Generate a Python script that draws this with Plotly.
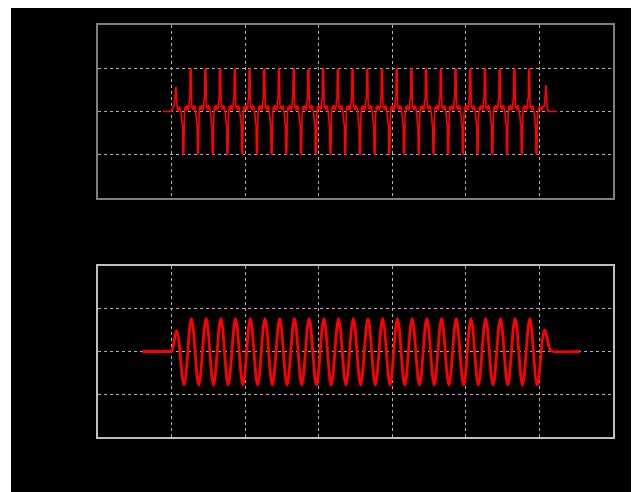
import plotly.graph_objects as go
from plotly.subplots import make_subplots

# ---- data (x in axis units 0..7, y in -2..2) ----
# times of the alternating extrema (trough, peak, trough, ...)
extrema_x = [1.17, 1.27, 1.37, 1.47, 1.57, 1.67, 1.77, 1.87, 1.97, 2.07,
             2.17, 2.27, 2.37, 2.47, 2.57, 2.67, 2.77, 2.87, 2.97, 3.07,
             3.17, 3.27, 3.37, 3.47, 3.57, 3.67, 3.77, 3.87, 3.97, 4.07,
             4.17, 4.27, 4.37, 4.47, 4.57, 4.67, 4.77, 4.87, 4.97, 5.07,
             5.17, 5.27, 5.37, 5.47, 5.57, 5.67, 5.77, 5.87, 5.97]
# lower panel: smooth oscillation values at those extrema
wave_y = [-0.78, 0.77, -0.78, 0.77, -0.78, 0.77, -0.78, 0.77, -0.78, 0.77,
          -0.78, 0.77, -0.78, 0.77, -0.78, 0.77, -0.78, 0.77, -0.78, 0.77,
          -0.78, 0.77, -0.78, 0.77, -0.78, 0.77, -0.78, 0.77, -0.78, 0.77,
          -0.78, 0.77, -0.78, 0.77, -0.78, 0.77, -0.78, 0.77, -0.78, 0.77,
          -0.78, 0.77, -0.78, 0.77, -0.78, 0.77, -0.78, 0.77, -0.78]
# upper panel: spike values at those extrema
spike_y = [-1.0, 1.0, -1.0, 1.0, -1.0, 1.0, -1.0, 1.0, -1.0, 1.0,
           -1.0, 1.0, -1.0, 1.0, -1.0, 1.0, -1.0, 1.0, -1.0, 1.0,
           -1.0, 1.0, -1.0, 1.0, -1.0, 1.0, -1.0, 1.0, -1.0, 1.0,
           -1.0, 1.0, -1.0, 1.0, -1.0, 1.0, -1.0, 1.0, -1.0, 1.0,
           -1.0, 1.0, -1.0, 1.0, -1.0, 1.0, -1.0, 1.0, -1.0]

# lower panel lead-in / tail
wave_head_x = [0.60, 0.98, 1.00, 1.07]
wave_head_y = [0.0, 0.0, 0.0, 0.48]
wave_tail_x = [6.07, 6.15, 6.19, 6.55]
wave_tail_y = [0.50, 0.03, 0.0, 0.0]

# upper panel lead-in / tail
spike_head_x = [0.88, 1.00, 1.02, 1.035, 1.045, 1.06, 1.075, 1.09, 1.105, 1.12]
spike_head_y = [0.0, 0.0, 0.1, 0.12, 0.3, 0.57, 0.1, 0.0, 0.12, 0.05]
spike_tail_x = [5.99, 6.01, 6.03, 6.05, 6.065, 6.075, 6.09, 6.105, 6.12, 6.24]
spike_tail_y = [0.05, 0.12, 0.02, 0.12, 0.1, 0.3, 0.61, 0.1, 0.0, 0.0]

# shape of each spike (offsets relative to spike time, fraction of spike value)
spike_dx = [-0.035, -0.027, -0.021, -0.017, -0.004, 0.004]
spike_frac = [0.1, 0.3, 0.28, 0.95, 1.0, 0.08]
# small ripple between two spikes (offsets after a spike)
ripple_dx = [0.014, 0.024, 0.034, 0.046, 0.056]
ripple_y = [0.12, 0.03, 0.13, 0.12, 0.02]

# ---- assemble traces ----
bx = wave_head_x + extrema_x + wave_tail_x
by = wave_head_y + wave_y + wave_tail_y

tx = list(spike_head_x)
ty = list(spike_head_y)
for i, (t, v) in enumerate(zip(extrema_x, spike_y)):
    for dx, f in zip(spike_dx, spike_frac):
        tx.append(t + dx)
        ty.append(v * f)
    if i < len(extrema_x) - 1:
        for dx, r in zip(ripple_dx, ripple_y):
            tx.append(t + dx)
            ty.append(r)
tx += spike_tail_x
ty += spike_tail_y

fig = make_subplots(rows=2, cols=1)
fig.add_trace(go.Scatter(x=tx, y=ty, mode="lines",
                         line=dict(color="#ff0000", width=1.6)), row=1, col=1)
fig.add_trace(go.Scatter(x=bx, y=by, mode="lines",
                         line=dict(color="#ff0000", width=2.8, shape="spline", smoothing=1)),
              row=2, col=1)

axis_common = dict(showgrid=True, gridcolor="#b0b0b0", griddash="dot", gridwidth=1,
                   showline=True, mirror=True, linewidth=1.5, zeroline=False,
                   showticklabels=False, ticks="")
fig.update_xaxes(range=[0, 7], dtick=1, tick0=0, **axis_common)
fig.update_yaxes(range=[-2, 2], dtick=1, tick0=0, **axis_common)
fig.update_xaxes(linecolor="#7f7f7f", row=1, col=1)
fig.update_yaxes(linecolor="#7f7f7f", row=1, col=1)
fig.update_xaxes(linecolor="#bfbfbf", row=2, col=1)
fig.update_yaxes(linecolor="#bfbfbf", row=2, col=1)

# the page places the figure 8px in from the window corner
fig.update_layout(
    width=631, height=484,
    margin=dict(l=90, r=26, t=17, b=55),
    paper_bgcolor="white",
    plot_bgcolor="black",
    showlegend=False,
    xaxis=dict(domain=[0, 1]),
    yaxis=dict(domain=[239 / 412, 1]),
    xaxis2=dict(domain=[0, 1]),
    yaxis2=dict(domain=[0, 171 / 412]),
    shapes=[dict(type="rect", xref="paper", yref="paper",
                 x0=(3 - 90) / 515, x1=(627 - 90) / 515,
                 y0=(429 - 490) / 412, y1=(429 + 5) / 412,
                 fillcolor="black", line=dict(width=0), layer="below")],
)

fig.write_html("out.html")
